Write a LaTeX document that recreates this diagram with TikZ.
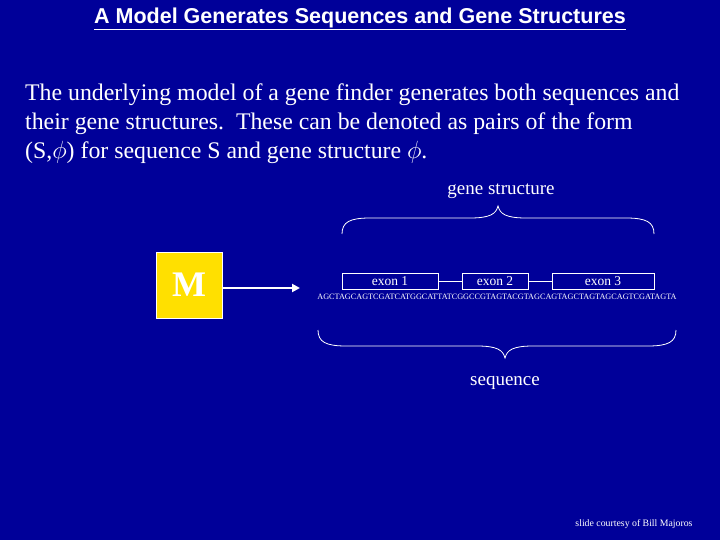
\documentclass[tikz,border=0pt]{standalone}
\usepackage{fontspec}
\setmainfont{Liberation Serif}
\newfontfamily\arialf{Liberation Sans}
\usetikzlibrary{arrows.meta}
\definecolor{bg}{HTML}{000099}
\definecolor{mybox}{HTML}{FFE000}
\begin{document}
\begin{tikzpicture}[x=1pt,y=-1pt,
  exonbox/.style={draw=white,line width=0.8pt,minimum height=16pt,inner sep=0pt,text=white,font=\fontsize{13.5}{14}\selectfont},
  brace/.style={draw=white,line width=0.8pt},
  lbl/.style={text=white,font=\fontsize{19}{21}\selectfont}]
\fill[bg] (0,0) rectangle (720,540);
\useasboundingbox (0,0) rectangle (720,540);
\node[text=white,font=\arialf\bfseries\fontsize{21.5}{24}\selectfont] (title) at (360,19) {\underline{A Model Generates Sequences and Gene Structures}};
\node[text=white,anchor=north west,align=left,font=\fontsize{23.8}{29}\selectfont,inner sep=0pt] (body) at (25,84)
 {The underlying model of a gene finder generates both sequences and\\their gene structures.\ \ These can be denoted as pairs of the form\\(S,$\phi$) for sequence S and gene structure $\phi$.};
\node[fill=mybox,draw=white,line width=0.6pt,minimum width=66pt,minimum height=66pt,text=white,font=\bfseries\fontsize{36}{38}\selectfont] (M) at (189,285) {M};
\coordinate (arrowend) at (300,288);
\draw[white,line width=2.2pt,-{Triangle[length=8pt,width=8pt]}] (M.east|-arrowend) -- (arrowend);
\node[exonbox,minimum width=96pt] (e1) at (390,281) {exon 1};
\node[exonbox,minimum width=66pt] (e2) at (495,281) {exon 2};
\node[exonbox,minimum width=102pt] (e3) at (603,281) {exon 3};
\draw[white,line width=0.8pt] (e1.east) -- (e2.west) (e2.east) -- (e3.west);
\node[text=white,font=\fontsize{8.2}{9}\selectfont,inner sep=0pt] (seq) at (497,297) {AGCTAGCAGTCGATCATGGCATTATCGGCCGTAGTACGTAGCAGTAGCTAGTAGCAGTCGATAGTA};
\draw[brace] (342,234) .. controls (342,222) and (350,218) .. (370,218) -- (470,218) .. controls (490,218) and (496,214) .. (498,206)
 .. controls (500,214) and (506,218) .. (526,218) -- (626,218) .. controls (646,218) and (654,222) .. (654,234);
\draw[brace] (318,330) .. controls (318,342) and (326,346) .. (346,346) -- (477,346) .. controls (497,346) and (503,350) .. (505,358)
 .. controls (507,350) and (513,346) .. (533,346) -- (648,346) .. controls (668,346) and (676,342) .. (676,330);
\node[lbl] (gs) at (501,191) {gene structure};
\node[lbl] (sq) at (505,383) {sequence};
\node[text=white,font=\fontsize{9.8}{11}\selectfont] (credit) at (634,524) {slide courtesy of Bill Majoros};
\end{tikzpicture}
\end{document}
